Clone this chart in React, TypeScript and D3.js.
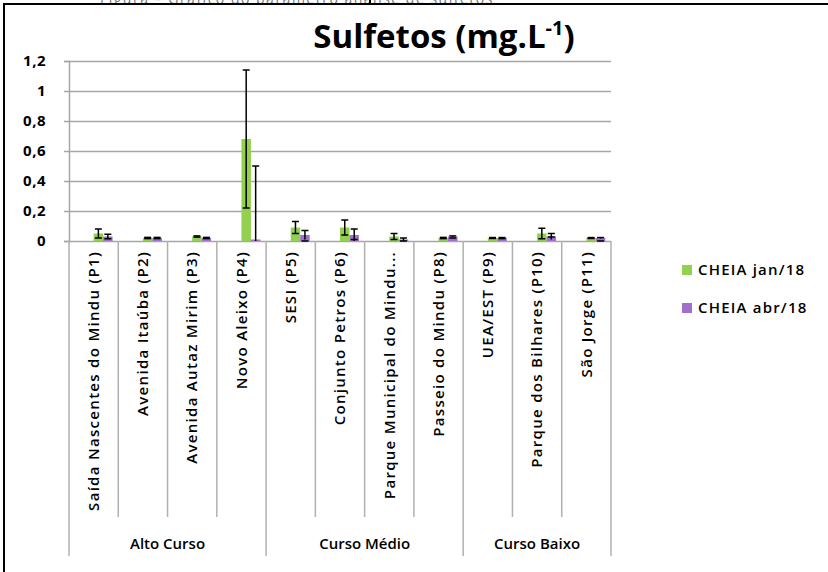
import React, { useEffect, useRef } from 'react';
import * as d3 from 'd3';

// Sampling points (x axis) and the river stretch each one belongs to
const categories = [
  'Saída Nascentes do Mindu (P1)',
  'Avenida Itaúba (P2)',
  'Avenida Autaz Mirim (P3)',
  'Novo Aleixo (P4)',
  'SESI (P5)',
  'Conjunto Petros (P6)',
  'Parque Municipal do Mindu...',
  'Passeio do Mindu (P8)',
  'UEA/EST (P9)',
  'Parque dos Bilhares (P10)',
  'São Jorge (P11)',
];
const groupNames = ['Alto Curso', 'Curso Médio', 'Curso Baixo'];
const groupSizes = [4, 4, 3];

// Series (mg/L) and their error bars
const seriesNames = ['CHEIA jan/18', 'CHEIA abr/18'];
const janValues = [0.05, 0.02, 0.03, 0.68, 0.09, 0.09, 0.03, 0.02, 0.02, 0.05, 0.02];
const janErrors = [0.03, 0.004, 0.004, 0.46, 0.04, 0.05, 0.02, 0.004, 0.003, 0.035, 0.003];
const abrValues = [0.03, 0.02, 0.02, 0.01, 0.04, 0.04, 0.01, 0.03, 0.02, 0.03, 0.02];
const abrErrors = [0.015, 0.004, 0.004, 0.49, 0.03, 0.04, 0.01, 0.004, 0.003, 0.02, 0.003];
const yTicks = [0, 0.2, 0.4, 0.6, 0.8, 1, 1.2];

const colors = ['#92d050', '#a070cc'];
const font = '"Open Sans", "Noto Sans", sans-serif';

const width = 828;
const height = 572;
const plot = { left: 69, right: 611, top: 61, bottom: 241 };

const App: React.FC = () => {
  const svgRef = useRef<SVGSVGElement>(null);

  useEffect(() => {
    const svg = d3.select(svgRef.current);
    svg.selectAll('*').remove();

    const x = d3.scaleBand<string>()
      .domain(categories)
      .range([plot.left, plot.right]);
    // Excel reserved four slots per category, the data sits in the last two
    const slot = d3.scaleBand<number>()
      .domain([0, 1, 2, 3])
      .range([0, x.bandwidth()])
      .paddingOuter(0.6);
    const y = d3.scaleLinear()
      .domain([0, 1.2])
      .range([plot.bottom, plot.top]);

    const comma = d3.formatLocale({
      decimal: ',', thousands: '.', grouping: [3], currency: ['', ''],
    }).format('~g');

    // Frame and the caption above it, which the crop leaves only a sliver of
    svg.append('text')
      .attr('x', 100)
      .attr('y', 3.5)
      .attr('font-family', font)
      .attr('font-size', 14)
      .attr('fill', '#777')
      .attr('letter-spacing', 1.5)
      .text('Figura – Gráfico do parâmetro análise de sulfetos');
    svg.append('rect')
      .attr('x', 0).attr('y', 3).attr('width', width).attr('height', height)
      .attr('fill', '#fff');
    svg.append('line')
      .attr('x1', 370).attr('x2', 370).attr('y1', 0).attr('y2', 4)
      .attr('stroke', '#000')
      .attr('stroke-width', 2);
    svg.append('path')
      .attr('d', `M4,${height} V4 H${width}`)
      .attr('fill', 'none')
      .attr('stroke', '#000')
      .attr('stroke-width', 2);

    // Title
    svg.append('text')
      .attr('x', 444)
      .attr('y', 48)
      .attr('text-anchor', 'middle')
      .attr('font-family', font)
      .attr('font-size', 33)
      .attr('font-weight', 700)
      .call((t) => {
        t.append('tspan').text('Sulfetos (mg.L');
        t.append('tspan').attr('font-size', 20).attr('dy', -13).text('-1');
        t.append('tspan').attr('dy', 13).text(')');
      });

    // Grid and y axis
    const yAxis = svg.append('g')
      .attr('transform', `translate(${plot.left},0)`)
      .call(d3.axisLeft(y).tickValues(yTicks).tickFormat((d) => comma(+d))
        .tickSize(5).tickPadding(18));
    yAxis.select('.domain').attr('stroke', '#a6a6a6').attr('stroke-width', 1.5);
    yAxis.selectAll('.tick line').attr('stroke', '#a6a6a6').attr('stroke-width', 1.5);
    yAxis.selectAll('.tick text')
      .attr('font-family', font)
      .attr('font-size', 15)
      .attr('font-weight', 700)
      .attr('letter-spacing', 0.5)
      .attr('fill', '#000');
    yAxis.selectAll('.tick')
      .append('line')
      .attr('x2', plot.right - plot.left)
      .attr('stroke', '#a6a6a6')
      .attr('stroke-width', 1.5);

    // Category separators (short) and group separators (long)
    const edges = categories.map((c) => x(c) as number).concat(plot.right);
    const groupEdges = [0];
    groupSizes.forEach((s, i) => groupEdges.push(groupEdges[i] + s));
    svg.append('g')
      .selectAll('line')
      .data(edges)
      .join('line')
      .attr('x1', (d) => d)
      .attr('x2', (d) => d)
      .attr('y1', plot.bottom)
      .attr('y2', (d, i) => (groupEdges.includes(i) ? 556 : 517))
      .attr('stroke', '#b0b0b0')
      .attr('stroke-width', 1.5);

    // Category labels, rotated
    svg.append('g')
      .selectAll('text')
      .data(categories)
      .join('text')
      .attr('transform', (d) => `translate(${(x(d) as number) + x.bandwidth() / 2},251) rotate(-90)`)
      .attr('text-anchor', 'end')
      .attr('dy', '0.35em')
      .attr('font-family', font)
      .attr('font-size', 15)
      .attr('font-weight', 600)
      .attr('letter-spacing', 1.3)
      .text((d) => d);

    // Group labels
    svg.append('g')
      .selectAll('text')
      .data(groupNames)
      .join('text')
      .attr('x', (d, i) => (edges[groupEdges[i]] + edges[groupEdges[i + 1]]) / 2)
      .attr('y', 549)
      .attr('text-anchor', 'middle')
      .attr('font-family', font)
      .attr('font-size', 15)
      .attr('font-weight', 600)
      .text((d) => d);

    // Bars and error bars
    const series = [
      { values: janValues, errors: janErrors, slotIndex: 2 },
      { values: abrValues, errors: abrErrors, slotIndex: 3 },
    ];
    series.forEach((s, si) => {
      const g = svg.append('g');
      const bx = (i: number) => (x(categories[i]) as number) + (slot(s.slotIndex) as number);
      g.selectAll('rect')
        .data(s.values)
        .join('rect')
        .attr('x', (d, i) => bx(i))
        .attr('y', (d) => y(d))
        .attr('width', slot.bandwidth())
        .attr('height', (d) => y(0) - y(d))
        .attr('fill', colors[si]);

      const eb = g.selectAll('g.err')
        .data(s.values)
        .join('g')
        .attr('class', 'err')
        .attr('transform', (d, i) => `translate(${bx(i) + slot.bandwidth() / 2},0)`);
      const hi = (d: number, i: number) => y(d + s.errors[i]);
      const lo = (d: number, i: number) => y(Math.max(0, d - s.errors[i]));
      eb.append('line')
        .attr('y1', hi)
        .attr('y2', lo)
        .attr('stroke', '#000')
        .attr('stroke-width', 1.5);
      eb.append('line')
        .attr('x1', -3.5).attr('x2', 3.5)
        .attr('y1', hi).attr('y2', hi)
        .attr('stroke', '#000')
        .attr('stroke-width', 1.5);
      eb.filter((d, i) => d - s.errors[i] >= 0)
        .append('line')
        .attr('x1', -3.5).attr('x2', 3.5)
        .attr('y1', lo).attr('y2', lo)
        .attr('stroke', '#000')
        .attr('stroke-width', 1.5);
    });

    // Legend
    const legend = svg.append('g')
      .selectAll('g')
      .data(seriesNames)
      .join('g')
      .attr('transform', (d, i) => `translate(682,${270 + i * 38})`);
    legend.append('rect')
      .attr('y', -5)
      .attr('width', 10)
      .attr('height', 10)
      .attr('fill', (d, i) => colors[i]);
    legend.append('text')
      .attr('x', 16)
      .attr('dy', '0.35em')
      .attr('font-family', font)
      .attr('font-size', 15)
      .attr('font-weight', 600)
      .attr('letter-spacing', 1.2)
      .text((d) => d);
  }, []);

  return (
    <div style={{ position: 'absolute', left: 0, top: 0 }}>
      <svg ref={svgRef} width={width} height={height} style={{ display: 'block', background: '#fff' }} />
    </div>
  );
};

export default App;
